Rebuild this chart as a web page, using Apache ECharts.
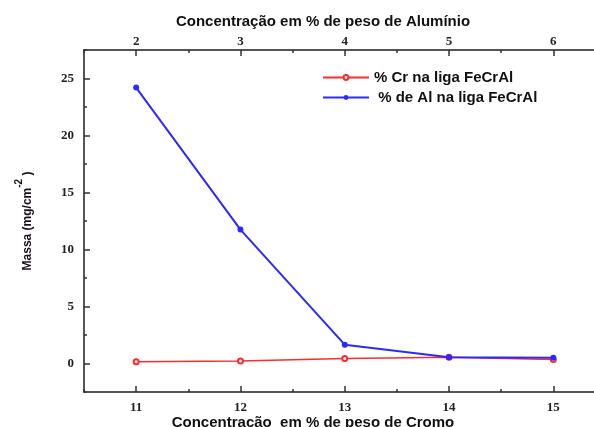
<!DOCTYPE html>
<html>
<head>
<meta charset="utf-8">
<script src="https://cdn.jsdelivr.net/npm/echarts@6/dist/echarts.min.js"></script>
<style>
  html, body { margin: 0; padding: 0; background: #fff; }
  #chart { width: 594px; height: 427px; }
</style>
</head>
<body>
<div id="chart"></div>
<script>
// Chromium content (bottom axis) and matching aluminium content (top axis)
const cromo = [11, 12, 13, 14, 15];
const aluminio = [2, 3, 4, 5, 6];
const massaCr = [0.15, 0.23, 0.44, 0.55, 0.35];
const massaAl = [24.2, 11.75, 1.65, 0.55, 0.5];
const yTicks = [0, 5, 10, 15, 20, 25];
const yMinorTicks = [-2.5, 2.5, 7.5, 12.5, 17.5, 22.5, 27.5];
const cromoMinor = [10.5, 11.5, 12.5, 13.5, 14.5, 15.5];
const aluminioMinor = [1.5, 2.5, 3.5, 4.5, 5.5, 6.5];

const axisColor = '#555';
const labelFont = { fontFamily: 'Liberation Serif', fontWeight: 'bold', fontSize: 13, color: '#222' };
const titleFont = { fontFamily: 'Liberation Sans', fontWeight: 'bold', fontSize: 15, color: '#111' };

const chart = echarts.init(document.getElementById('chart'), null, { renderer: 'canvas' });

function xAxisPair(pos, min, max, major, minor, name, namePad, nameGap, labelMargin) {
  return [
    {
      type: 'value', position: pos, min: min, max: max, gridIndex: 0,
      axisLine: { show: true, onZero: false, lineStyle: { color: axisColor, width: 2 } },
      axisTick: { show: true, inside: true, length: 6, customValues: major, lineStyle: { color: '#333', width: 1.5 } },
      axisLabel: { show: true, customValues: major, margin: labelMargin, ...labelFont },
      splitLine: { show: false },
      name: name, nameLocation: 'middle', nameGap: nameGap, nameMoveOverlap: false,
      nameTextStyle: { ...titleFont, padding: namePad }
    },
    {
      type: 'value', position: pos, min: min, max: max, gridIndex: 0,
      axisLine: { show: false, onZero: false },
      axisTick: { show: true, inside: true, length: 3, customValues: minor, lineStyle: { color: '#333', width: 1.5 } },
      axisLabel: { show: false },
      splitLine: { show: false }
    }
  ];
}

const xAxes = [
  ...xAxisPair('bottom', 10.5, 15.39, cromo, cromoMinor,
    'Concentração  em % de peso de Cromo', [0, 52, 0, 0], 23, 9),
  ...xAxisPair('top', 1.5, 6.39, aluminio, aluminioMinor,
    'Concentração em % de peso de Alumínio', [0, 32, 0, 0], 21, 2)
];

chart.setOption({
  animation: false,
  grid: { left: 84, right: 0, top: 50, bottom: 35, containLabel: false, outerBoundsMode: 'none' },
  legend: {
    orient: 'vertical', left: 317, top: 65,
    itemWidth: 46, itemHeight: 6, itemGap: 5,
    textStyle: { fontFamily: 'Liberation Sans', fontWeight: 'bold', fontSize: 15, color: '#111' },
    data: ['% Cr na liga FeCrAl', ' % de Al na liga FeCrAl']
  },
  xAxis: xAxes,
  yAxis: [
    {
      type: 'value', min: -2.5, max: 27.5,
      axisLine: { show: true, onZero: false, lineStyle: { color: axisColor, width: 2 } },
      axisTick: { show: true, inside: true, length: 6, customValues: yTicks, lineStyle: { color: '#333', width: 1.5 } },
      axisLabel: { show: true, customValues: yTicks, margin: 10, ...labelFont },
      splitLine: { show: false },
      name: '{a|Massa (mg/cm}{s|-2}{a| )}', nameLocation: 'middle', nameGap: 50, nameRotate: 90,
      nameMoveOverlap: false,
      nameTextStyle: {
        rich: {
          a: { ...titleFont, fontSize: 12, color: '#1a1020', lineHeight: 20, verticalAlign: 'bottom' },
          s: { ...titleFont, fontSize: 10, color: '#1a1020', lineHeight: 20, verticalAlign: 'top' }
        }
      }
    },
    {
      type: 'value', min: -2.5, max: 27.5, position: 'left',
      axisLine: { show: false, onZero: false },
      axisTick: { show: true, inside: true, length: 3, customValues: yMinorTicks, lineStyle: { color: '#333', width: 1.5 } },
      axisLabel: { show: false },
      splitLine: { show: false }
    }
  ],
  series: [
    {
      name: '% Cr na liga FeCrAl', type: 'line', xAxisIndex: 0, yAxisIndex: 0,
      data: cromo.map((c, i) => [c, massaCr[i]]),
      symbol: 'emptyCircle', symbolSize: 5,
      lineStyle: { color: '#ff2a2a', width: 1.5 },
      itemStyle: { color: '#ff2a2a', borderWidth: 1.2 },
      z: 2
    },
    {
      name: ' % de Al na liga FeCrAl', type: 'line', xAxisIndex: 0, yAxisIndex: 0,
      data: cromo.map((c, i) => [c, massaAl[i]]),
      symbol: 'circle', symbolSize: 6,
      lineStyle: { color: '#2a2aff', width: 2 },
      itemStyle: { color: '#2a2aff' },
      z: 3
    }
  ]
});
</script>
</body>
</html>
